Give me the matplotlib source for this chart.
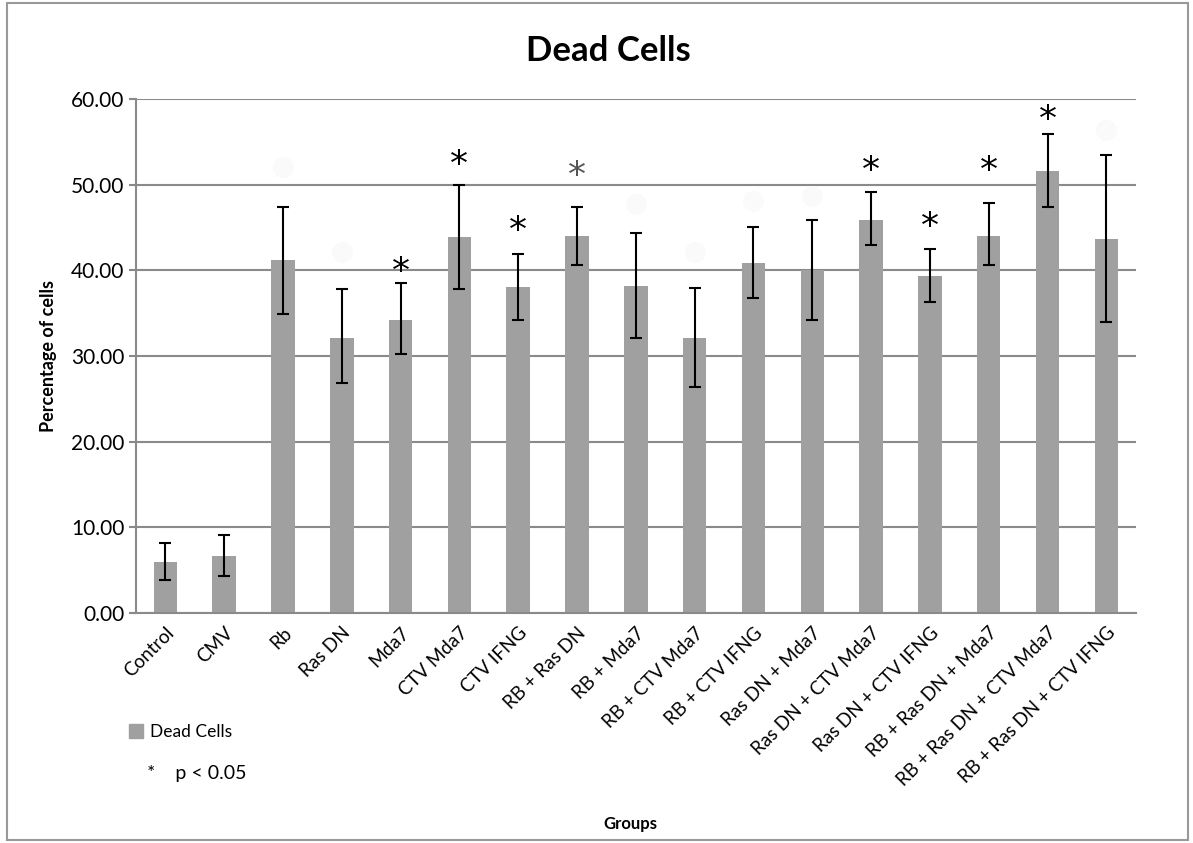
import matplotlib.pyplot as plt
from matplotlib.patches import Rectangle, Patch

plt.rcParams['font.family'] = ['Lato', 'DejaVu Sans']

groups = ['Control', 'CMV', 'Rb', 'Ras DN', 'Mda7', 'CTV Mda7', 'CTV IFNG',
          'RB + Ras DN', 'RB + Mda7', 'RB + CTV Mda7', 'RB + CTV IFNG',
          'Ras DN + Mda7', 'Ras DN + CTV Mda7', 'Ras DN + CTV IFNG',
          'RB + Ras DN + Mda7', 'RB + Ras DN + CTV Mda7', 'RB + Ras DN + CTV IFNG']
dead = [5.9, 6.6, 41.2, 32.1, 34.2, 43.9, 38.0, 44.0, 38.2, 32.1, 40.8,
        40.0, 45.9, 39.3, 44.0, 51.6, 43.6]
err_hi = [8.2, 9.1, 47.4, 37.8, 38.5, 50.0, 41.9, 47.4, 44.4, 37.9, 45.1,
          45.9, 49.1, 42.5, 47.8, 55.9, 53.5]
err_lo = [3.8, 4.3, 34.9, 26.8, 30.2, 37.8, 34.2, 40.6, 32.1, 26.4, 36.8,
          34.2, 42.9, 36.3, 40.6, 47.4, 34.0]

# significance stars (group index, y position)
star_idx = [4, 5, 6, 7, 12, 13, 14, 15]
star_y = [39.8, 52.3, 44.6, 51.0, 51.6, 45.1, 51.6, 57.6]
# faint circles left in the source image
dot_idx = [2, 3, 8, 9, 10, 11, 16]
dot_y = [52.1, 42.1, 47.7, 42.1, 48.1, 48.7, 56.4]

x = list(range(len(groups)))
lo = [d - l for d, l in zip(dead, err_lo)]
hi = [h - d for d, h in zip(dead, err_hi)]

fig = plt.figure(figsize=(11.93, 8.43), dpi=100)
ax = fig.add_axes([0.114, 0.2728, 0.838, 0.6098])

ax.bar(x, dead, width=0.4, color='#a0a0a0', zorder=2)
ax.errorbar(x, dead, yerr=[lo, hi], fmt='none', ecolor='black', elinewidth=1.5,
            capsize=4.5, capthick=1.5, zorder=3)
ax.scatter(dot_idx, dot_y, s=200, color='#fafafa', zorder=1)
for i, yv in zip(star_idx, star_y):
    c = '#555555' if i == 7 else 'black'
    ax.text(i, yv, '*', ha='center', va='center', fontsize=26, color=c,
            family='DejaVu Sans', zorder=4)

ax.set_xlim(-0.5, len(groups) - 0.5)
ax.set_ylim(0, 60)
ax.set_yticks(range(0, 61, 10))
ax.set_yticklabels(['%.2f' % v for v in range(0, 61, 10)], fontsize=15)
ax.set_xticks(x)
ax.set_xticklabels(groups, rotation=45, ha='right', rotation_mode='anchor', fontsize=13.5)
ax.tick_params(axis='x', length=0, pad=8)
ax.tick_params(axis='y', length=5, color='#888888', width=1.5)
ax.grid(axis='y', color='#8a8a8a', linewidth=1.5, zorder=0)
ax.set_axisbelow(True)
for s in ['top', 'right']:
    ax.spines[s].set_visible(False)
for s in ['left', 'bottom']:
    ax.spines[s].set_color('#8a8a8a')
    ax.spines[s].set_linewidth(1.5)

ax.set_ylabel('Percentage of cells', fontsize=13, fontweight='bold', labelpad=10)
fig.text(0.528, 0.023, 'Groups', ha='center', va='center', fontsize=12, fontweight='bold')
fig.text(0.51, 0.94, 'Dead Cells', ha='center', va='center', fontsize=25, fontweight='bold')

fig.legend(handles=[Patch(color='#a0a0a0', label='Dead Cells')], loc='center left',
           bbox_to_anchor=(0.095, 0.132), frameon=False, fontsize=12.5,
           handlelength=0.8, handleheight=0.9, handletextpad=0.4)
fig.text(0.123, 0.083, '*    p < 0.05', ha='left', va='center', fontsize=14)

fig.patches.append(Rectangle((0.006, 0.004), 0.99, 0.993, transform=fig.transFigure,
                             fill=False, edgecolor='#999999', linewidth=1.5))

fig.savefig('out.png', dpi=100)
